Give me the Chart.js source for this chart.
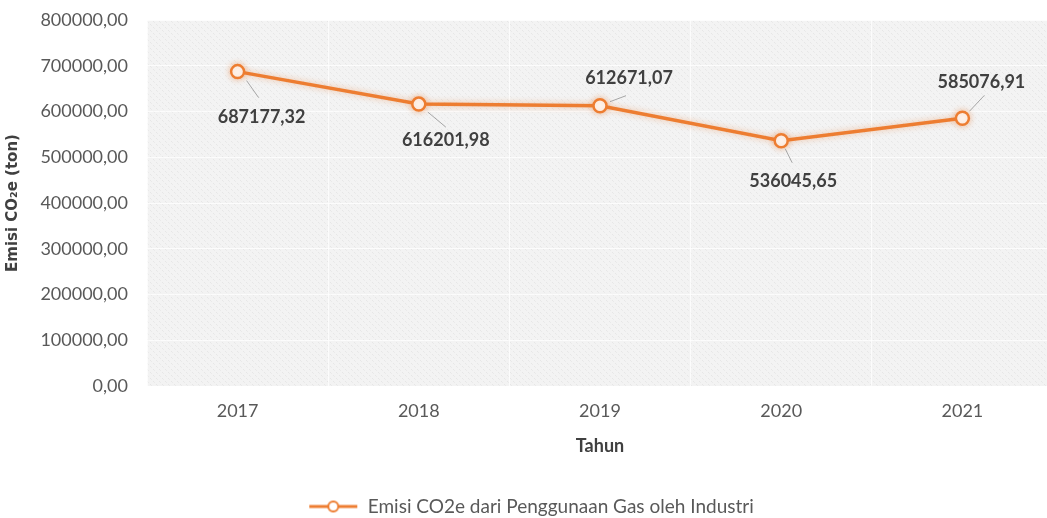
<!DOCTYPE html>
<html>
<head>
<meta charset="utf-8">
<script src="https://cdn.jsdelivr.net/npm/chart.js@4.4.1/dist/chart.umd.min.js"></script>
<style>
  html, body { margin: 0; padding: 0; background: #ffffff; overflow: hidden; }
  #wrap { width: 1047px; height: 518px; overflow: hidden; }
  canvas { display: block; }
</style>
</head>
<body>
<div id="wrap"><canvas id="c" width="1062" height="526"></canvas></div>
<script>
// Annual CO2e emissions from industrial gas use (tonnes)
const years = ['2017', '2018', '2019', '2020', '2021'];
const emissions = [687177.32, 616201.98, 612671.07, 536045.65, 585076.91];
const seriesName = 'Emisi CO2e dari Penggunaan Gas oleh Industri';
const yMin = 0, yMax = 800000, yStep = 100000;

// Placement of each value label relative to its point: [label dx, label dy, leader start dx, dy, leader end dx, dy]
const labelPlacement = [
  [24, 46, 9, 9, 21, 26],
  [27, 36, 9, 8, 27, 23],
  [29, -28, 10, -4, 26, -10],
  [12, 40, 4, 8, 11, 22],
  [19, -36, 7, -7, 22, -23]
];

const ORANGE = '#ED7D31';
const FONT = 'Lato, "Open Sans", "DejaVu Sans", sans-serif';

const fmt = v => v.toFixed(2).replace('.', ',');

// Soft dotted texture for the plot background
function makePattern(ctx) {
  const t = document.createElement('canvas');
  t.width = 6; t.height = 6;
  const g = t.getContext('2d');
  g.fillStyle = '#f3f3f3';
  g.fillRect(0, 0, 6, 6);
  g.fillStyle = '#e6e6e6';
  g.fillRect(0, 0, 1, 1);
  g.fillRect(3, 3, 1, 1);
  g.fillStyle = '#eaeaea';
  g.fillRect(1, 1, 1, 1);
  g.fillRect(4, 4, 1, 1);
  return ctx.createPattern(t, 'repeat');
}

// Legend marker: short line with an open circle
function legendMarker() {
  const m = document.createElement('canvas');
  m.width = 50; m.height = 16;
  const g = m.getContext('2d');
  g.strokeStyle = ORANGE;
  g.lineWidth = 3;
  g.beginPath(); g.moveTo(1, 8); g.lineTo(49, 8); g.stroke();
  g.fillStyle = '#fff';
  g.lineWidth = 2;
  g.beginPath(); g.arc(25, 8, 5, 0, Math.PI * 2); g.fill(); g.stroke();
  return m;
}
const marker = legendMarker();

const plotBackground = {
  id: 'plotBackground',
  beforeDraw(chart) {
    const { ctx, chartArea: a } = chart;
    ctx.save();
    ctx.fillStyle = makePattern(ctx);
    ctx.fillRect(a.left, a.top, a.right - a.left, a.bottom - a.top);
    ctx.restore();
  }
};

const lineGlow = {
  id: 'lineGlow',
  beforeDatasetDraw(chart) {
    chart.ctx.save();
    chart.ctx.shadowColor = 'rgba(237,125,49,0.45)';
    chart.ctx.shadowBlur = 6;
  },
  afterDatasetDraw(chart) {
    chart.ctx.restore();
  }
};

const valueLabels = {
  id: 'valueLabels',
  afterDatasetsDraw(chart) {
    const { ctx } = chart;
    const meta = chart.getDatasetMeta(0);
    const data = chart.data.datasets[0].data;
    ctx.save();
    meta.data.forEach((pt, i) => {
      const p = labelPlacement[i];
      ctx.strokeStyle = '#a6a6a6';
      ctx.lineWidth = 1;
      ctx.beginPath();
      ctx.moveTo(pt.x + p[2], pt.y + p[3]);
      ctx.lineTo(pt.x + p[4], pt.y + p[5]);
      ctx.stroke();
      ctx.fillStyle = '#404040';
      ctx.font = 'bold 18px ' + FONT;
      ctx.textAlign = 'center';
      ctx.textBaseline = 'middle';
      ctx.fillText(fmt(data[i]), pt.x + p[0], pt.y + p[1]);
    });
    ctx.restore();
  }
};

new Chart(document.getElementById('c'), {
  type: 'line',
  data: {
    labels: years,
    datasets: [{
      label: seriesName,
      data: emissions,
      borderColor: ORANGE,
      borderWidth: 3.5,
      backgroundColor: '#ffffff',
      pointRadius: 6.5,
      pointBorderWidth: 2.5,
      pointBorderColor: ORANGE,
      pointBackgroundColor: '#ffffff',
      tension: 0,
      clip: false
    }]
  },
  options: {
    responsive: false,
    animation: false,
    layout: { padding: { top: 20, bottom: 0, left: 0, right: 0 } },
    plugins: {
      tooltip: { enabled: false },
      legend: {
        position: 'bottom',
        labels: {
          usePointStyle: true,
          pointStyleWidth: 50,
          padding: 4,
          color: '#595959',
          font: { family: FONT, size: 19 },
          generateLabels: chart => [{
            text: seriesName,
            pointStyle: marker,
            fillStyle: ORANGE,
            strokeStyle: ORANGE,
            lineWidth: 0,
            hidden: false,
            datasetIndex: 0,
            fontColor: '#595959'
          }]
        }
      }
    },
    scales: {
      x: {
        offset: true,
        grid: { display: true, color: 'rgba(255,255,255,0.7)', drawTicks: false, offset: true },
        border: { display: false },
        ticks: { color: '#595959', font: { family: FONT, size: 18 }, padding: 14 },
        title: {
          display: true, text: 'Tahun', color: '#404040',
          font: { family: FONT, size: 18, weight: 'bold' },
          padding: { top: 4, bottom: 36 }
        },
        afterFit: s => { s.height = 107; }
      },
      y: {
        min: yMin, max: yMax,
        grid: {
          color: 'rgba(255,255,255,0.7)',
          drawTicks: true, tickLength: 19, tickColor: 'rgba(0,0,0,0)'
        },
        border: { display: false },
        ticks: {
          stepSize: yStep, color: '#595959', padding: 0,
          font: { family: FONT, size: 18 },
          callback: v => fmt(v)
        },
        title: {
          display: true, text: 'Emisi CO\u2082e (ton)', color: '#404040',
          font: { family: '"DejaVu Sans", sans-serif', size: 15, weight: 'bold' },
          padding: { top: 4, bottom: 0 }
        },
        afterFit: s => { s.width = 147; }
      }
    }
  },
  plugins: [plotBackground, lineGlow, valueLabels]
});
</script>
</body>
</html>
